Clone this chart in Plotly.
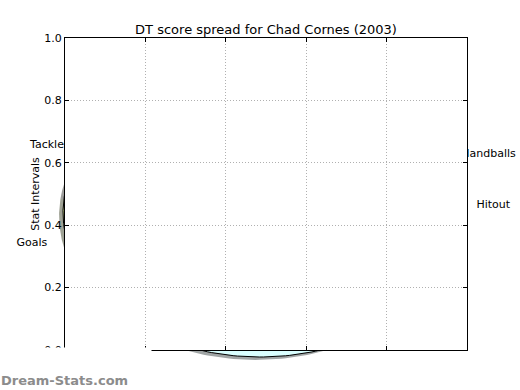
import numpy as np
import plotly.graph_objects as go

# ---- data ----
categories = ["Hitout", "Handballs", "Kicks", "Tackle", "Goals", "Marks"]
fractions = [0.016, 0.089, 0.274, 0.102, 0.099, 0.420]
label_text = ["Hitout", "Handballs", "Kicks", "Tackle", "Goals", ""]
wedge_colors = ["#f4c8a0", "#f8e0b0", "#c8d8f0", "#d0d0c0", "#d8e690", "#d9ffff"]
y_ticks = [0.0, 0.2, 0.4, 0.6, 0.8, 1.0]
x_ticks = [0, 1, 2, 3, 4, 5]
title_text = "DT score spread for Chad Cornes (2003)"
y_title = "Stat Intervals"
watermark = "Dream-Stats.com"

W, H = 520, 390
FONT = "DejaVu Sans"

# pie subplot geometry (unit-radius pie, stretched like an un-equal-aspect matplotlib pie)
PCX, PCY, PA, PB = 260, 213, 197, 144
SHADOW = (-0.02, -0.02)
LABEL_DIST = 1.1


def hex_rgb(h):
    h = h.lstrip("#")
    return [int(h[i:i + 2], 16) for i in (0, 2, 4)]


fig = go.Figure()

# wedge polygons from the fractions
starts = np.concatenate([[0.0], np.cumsum(fractions)[:-1]]) * 360.0
ends = np.cumsum(fractions) * 360.0
polys = []
for s, e in zip(starts, ends):
    th = np.radians(np.linspace(s, e, 120))
    xs = np.concatenate([[0.0], np.cos(th), [0.0]])
    ys = np.concatenate([[0.0], np.sin(th), [0.0]])
    polys.append((xs, ys))

# shadows first (below all wedges)
for (xs, ys), c in zip(polys, wedge_colors):
    r, g, b = [int(0.3 * v) for v in hex_rgb(c)]
    fig.add_trace(go.Scatter(
        x=xs + SHADOW[0], y=ys + SHADOW[1], mode="lines", fill="toself",
        fillcolor=f"rgba({r},{g},{b},0.5)", line=dict(width=0),
        hoverinfo="skip", showlegend=False, xaxis="x", yaxis="y"))

for (xs, ys), c, name in zip(polys, wedge_colors, categories):
    fig.add_trace(go.Scatter(
        x=xs, y=ys, mode="lines", fill="toself", fillcolor=c,
        line=dict(color="black", width=1), name=name,
        hoverinfo="skip", showlegend=False, xaxis="x", yaxis="y"))

# labels at 1.1 * radius on the middle angle
mids = np.radians((starts + ends) / 2)
lx = LABEL_DIST * np.cos(mids)
ly = LABEL_DIST * np.sin(mids)
for x0, y0, t in zip(lx, ly, label_text):
    fig.add_trace(go.Scatter(
        x=[x0], y=[y0], mode="text", text=[t],
        textposition="middle right" if x0 > 0 else "middle left",
        textfont=dict(family=FONT, size=11, color="black"),
        hoverinfo="skip", showlegend=False, xaxis="x", yaxis="y"))

# main (inset) axes, drawn above the pie subplot
fig.add_trace(go.Scatter(x=[], y=[], xaxis="x2", yaxis="y2",
                         showlegend=False, hoverinfo="skip"))

axis_common = dict(
    ticks="inside", ticklen=4, tickcolor="black", tickwidth=1,
    showline=True, linecolor="black", linewidth=1, mirror="ticks",
    showgrid=True, gridcolor="#b0b0b0", griddash="1px,2px", gridwidth=1,
    zeroline=False, fixedrange=True,
    tickfont=dict(family=FONT, size=11, color="black"),
)

fig.update_layout(
    width=W, height=H, autosize=False,
    margin=dict(l=0, r=0, t=0, b=0, pad=0, autoexpand=False),
    paper_bgcolor="white", plot_bgcolor="white",
    xaxis=dict(domain=[0, 1], anchor="y", visible=False, fixedrange=True,
               range=[-PCX / PA, (W - PCX) / PA]),
    yaxis=dict(domain=[0, 1], anchor="x", visible=False, fixedrange=True,
               range=[-(H - PCY) / PB, PCY / PB]),
    xaxis2=dict(domain=[65 / W, 467 / W], anchor="y2", range=[0, 5],
                tickvals=x_ticks, showticklabels=False, **axis_common),
    yaxis2=dict(domain=[40 / H, 352 / H], anchor="x2", range=[0, 1],
                tickvals=y_ticks, ticktext=[f"{v:.1f}" for v in y_ticks],
                title=dict(text=y_title, standoff=2,
                           font=dict(family=FONT, size=11, color="black")),
                **axis_common),
    title=dict(text=title_text, x=266 / W, xanchor="center",
               y=1 - 29 / H, yanchor="middle", automargin=False,
               font=dict(family=FONT, size=13, color="black")),
    annotations=[dict(
        text=f"<b>{watermark}</b>", xref="paper", yref="paper",
        x=0, y=0, xanchor="left", yanchor="bottom", showarrow=False,
        bgcolor="white", width=150, height=40, valign="bottom", align="left",
        borderpad=0, yshift=1,
        font=dict(family=FONT, size=13, color="#8c8c8c"))],
    showlegend=False,
)

fig.write_html("out.html")
